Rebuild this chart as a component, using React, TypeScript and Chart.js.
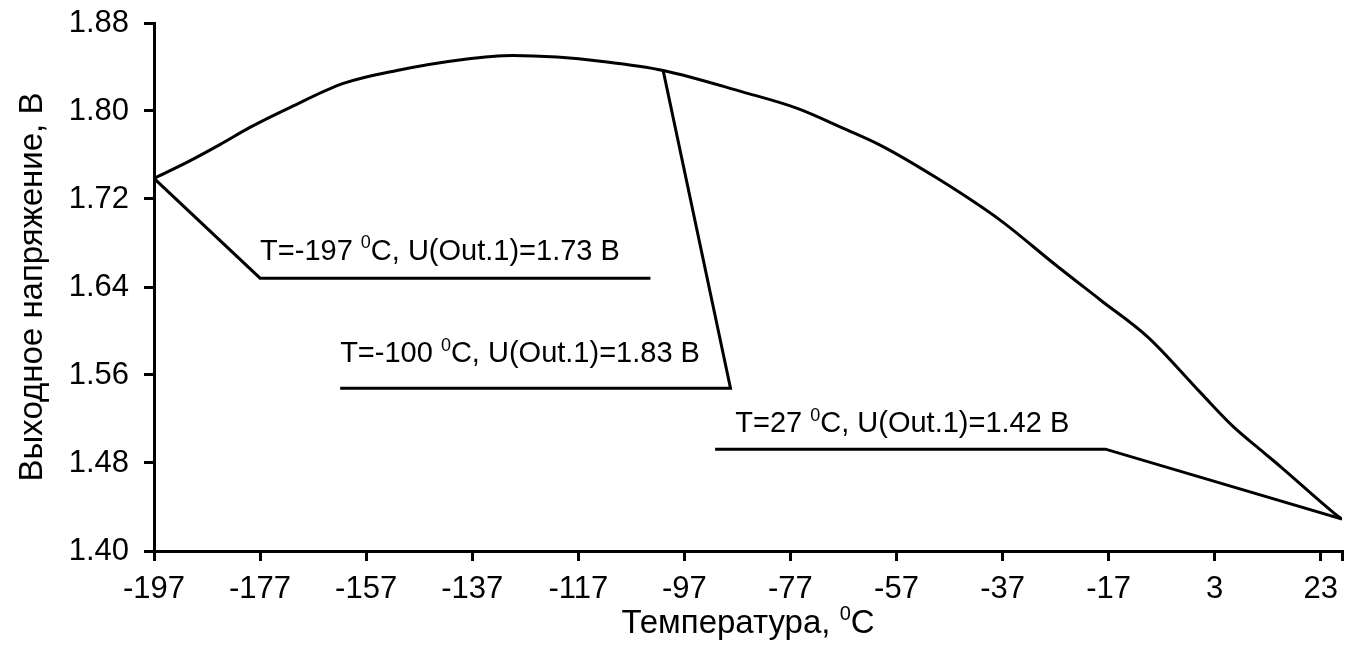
import React, { useEffect, useRef } from "react";
import { Chart, registerables } from "chart.js";

Chart.register(...registerables);

const xTickValues = [-197, -177, -157, -137, -117, -97, -77, -57, -37, -17, 3, 23];
const xMin = -197;
const xMax = 27;
const yTickValues = [1.4, 1.48, 1.56, 1.64, 1.72, 1.8, 1.88];

const curveT = [-197, -190.8, -184.5, -178.9, -171.3, -161.3, -151.2, -138.7, -129.3, -121.0, -112.8, -101.0, -85.9, -75.7, -67.0, -60.0, -49.3, -37.4, -27.4, -18.5, -9.6, 0.4, 6.6, 11.7, 15.5, 25.5, 27];
const curveU = [1.7388, 1.7533, 1.7697, 1.7851, 1.8033, 1.8251, 1.8369, 1.8469, 1.8505, 1.849, 1.8453, 1.8369, 1.8172, 1.8024, 1.7842, 1.7688, 1.7388, 1.7006, 1.6616, 1.628, 1.5944, 1.5435, 1.5126, 1.4917, 1.4763, 1.4345, 1.429];

const lead1T = [-197, -177, -103.4];
const lead1U = [1.7388, 1.648, 1.648];
const lead2T = [-161.9, -88.3, -101.0];
const lead2U = [1.548, 1.548, 1.8369];
const lead3T = [-91.2, -17.6, 27];
const lead3U = [1.4926, 1.4926, 1.429];

const labelPrefix = ["T=-197 ", "T=-100 ", "T=27 "];
const labelSuffix = ["C, U(Out.1)=1.73 B", "C, U(Out.1)=1.83 B", "C, U(Out.1)=1.42 B"];
const labelT = [-177, -161.9, -87.4];
const labelU = [1.665, 1.572, 1.508];

const yTitle = "Выходное напряжение, В";
const xTitlePrefix = "Температура, ";
const xTitleSuffix = "C";

const FONT = "'Liberation Sans', Arial, sans-serif";

const pts = (xs: number[], ys: number[]) => xs.map((x, i) => ({ x, y: ys[i] }));

function drawSup(ctx: CanvasRenderingContext2D, x: number, y: number, prefix: string, suffix: string, size: number) {
  ctx.font = `${size}px ${FONT}`;
  ctx.fillText(prefix, x, y);
  let cx = x + ctx.measureText(prefix).width;
  const small = Math.round(size * 0.62);
  ctx.font = `${small}px ${FONT}`;
  ctx.fillText("0", cx, y - size * 0.38);
  cx += ctx.measureText("0").width;
  ctx.font = `${size}px ${FONT}`;
  ctx.fillText(suffix, cx, y);
}

function supWidth(ctx: CanvasRenderingContext2D, prefix: string, suffix: string, size: number) {
  ctx.font = `${size}px ${FONT}`;
  const a = ctx.measureText(prefix).width + ctx.measureText(suffix).width;
  ctx.font = `${Math.round(size * 0.62)}px ${FONT}`;
  return a + ctx.measureText("0").width;
}

const textPlugin = {
  id: "textPlugin",
  afterDraw(chart: any) {
    const ctx = chart.ctx as CanvasRenderingContext2D;
    const xs = chart.scales.x;
    const ys = chart.scales.y;
    ctx.save();
    ctx.fillStyle = "#000";
    ctx.textBaseline = "alphabetic";
    ctx.textAlign = "left";
    for (let i = 0; i < labelPrefix.length; i++) {
      drawSup(ctx, xs.getPixelForValue(labelT[i]), ys.getPixelForValue(labelU[i]), labelPrefix[i], labelSuffix[i], 29);
    }
    // x title
    const tw = supWidth(ctx, xTitlePrefix, xTitleSuffix, 33);
    const cxTitle = (chart.chartArea.left + chart.chartArea.right) / 2;
    drawSup(ctx, cxTitle - tw / 2, 633, xTitlePrefix, xTitleSuffix, 33);
    // y title
    ctx.translate(42, (chart.chartArea.top + chart.chartArea.bottom) / 2);
    ctx.rotate(-Math.PI / 2);
    ctx.textAlign = "center";
    ctx.font = `33px ${FONT}`;
    ctx.fillText(yTitle, 0, 0);
    ctx.restore();
  },
};

export default function App() {
  const ref = useRef<HTMLCanvasElement>(null);
  useEffect(() => {
    if (!ref.current) return;
    const lineDs = (data: any) => ({
      data,
      showLine: true,
      borderColor: "#000",
      borderWidth: 3,
      pointRadius: 0,
      fill: false,
    });
    const chart = new Chart(ref.current, {
      type: "scatter",
      data: {
        datasets: [
          { ...lineDs(pts(curveT, curveU)), cubicInterpolationMode: "monotone" },
          lineDs(pts(lead1T, lead1U)),
          lineDs(pts(lead2T, lead2U)),
          lineDs(pts(lead3T, lead3U)),
        ],
      },
      options: {
        animation: false,
        responsive: false,
        layout: { padding: { left: 0, right: 13, top: 23, bottom: 0 } },
        plugins: { legend: { display: false }, tooltip: { enabled: false } },
        scales: {
          x: {
            type: "linear",
            min: xMin,
            max: xMax,
            afterBuildTicks: (s: any) => {
              s.ticks = [...xTickValues, xMax].map((v) => ({ value: v }));
            },
            afterFit: (s: any) => {
              s.height = 115;
              s.paddingLeft = 0;
              s.paddingRight = 0;
            },
            ticks: {
              autoSkip: false,
              maxRotation: 0,
              color: "#000",
              font: { family: FONT, size: 31 },
              padding: 10,
              callback: (v: any) => (xTickValues.includes(Number(v)) ? String(v) : ""),
            },
            grid: { drawOnChartArea: false, drawTicks: true, tickLength: 10, color: "#000", lineWidth: 3 },
            border: { color: "#000", width: 3 },
          },
          y: {
            type: "linear",
            min: 1.4,
            max: 1.88,
            afterBuildTicks: (s: any) => {
              s.ticks = yTickValues.map((v) => ({ value: v }));
            },
            afterFit: (s: any) => {
              s.width = 154;
              s.paddingTop = 0;
              s.paddingBottom = 0;
            },
            ticks: {
              autoSkip: false,
              color: "#000",
              font: { family: FONT, size: 31 },
              padding: 15,
              callback: (v: any) => Number(v).toFixed(2),
            },
            grid: { drawOnChartArea: false, drawTicks: true, tickLength: 10, color: "#000", lineWidth: 3 },
            border: { color: "#000", width: 3 },
          },
        },
      },
      plugins: [textPlugin],
    } as any);
    return () => chart.destroy();
  }, []);
  return (
    <div style={{ position: "fixed", left: 0, top: 0, width: 1355, height: 666, background: "#fff" }}>
      <canvas ref={ref} width={1355} height={666} style={{ width: 1355, height: 666, display: "block" }} />
    </div>
  );
}
